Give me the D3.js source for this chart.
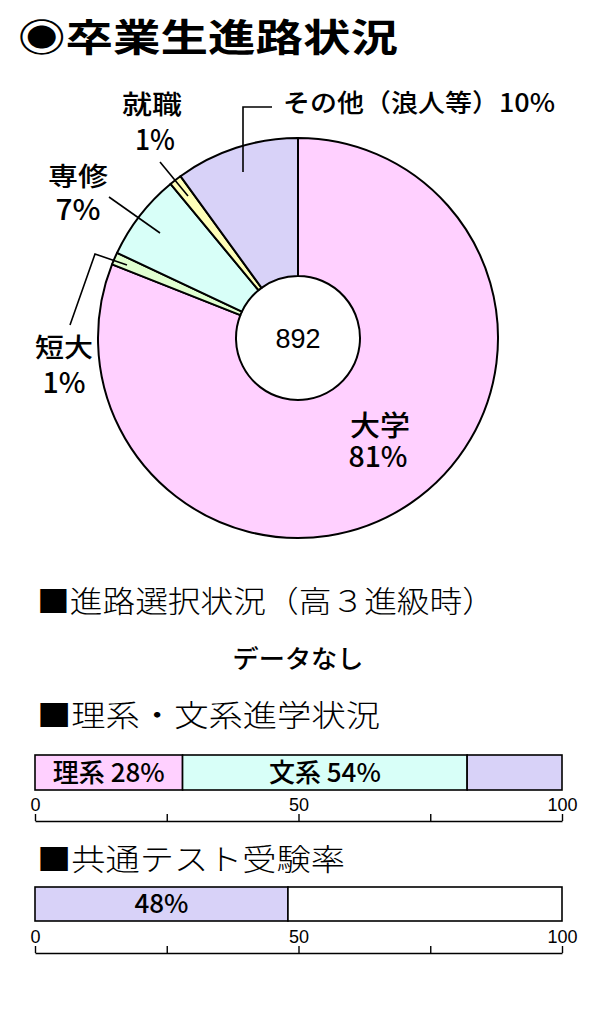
<!DOCTYPE html>
<html lang="ja">
<head>
    <meta charset="UTF-8"/>
    <title>卒業生進路状況</title>
    <script src="https://d3js.org/d3.v7.min.js"></script>
    <style>
        body { margin: 0; background: #fff; }
        svg text { font-family: "Liberation Sans", "Noto Sans CJK JP", sans-serif; }
        svg text.cjk { font-family: "Noto Sans CJK JP", sans-serif; }
    </style>
</head>
<body>
<script>
    // ---- data ----
    var pieCategories = ["大学", "短大", "専修", "就職", "その他"];
    var pieValues = [81, 1, 7, 1, 10];
    var pieColors = ["#ffd0ff", "#e0ffd0", "#d8fff8", "#ffffb8", "#d8d2f8"];
    var totalGraduates = 892;

    var bunriCategories = ["理系", "文系", "その他"];
    var bunriValues = [28, 54, 18];
    var bunriColors = ["#ffd0ff", "#d8fff8", "#d8d2f8"];

    var kyotsuCategories = ["受験", "未受験"];
    var kyotsuValues = [48, 52];
    var kyotsuColors = ["#d8d2f8", "#ffffff"];

    var axisTicks = [0, 25, 50, 75, 100];
    var axisTickLabels = ["0", "", "50", "", "100"];

    var w = 602, h = 1014;

    var svg = d3.select("body").append("svg")
        .attr("width", w)
        .attr("height", h);

    // ---- title ----
    svg.append("text")
        .attr("class", "cjk")
        .attr("x", 18).attr("y", 51)
        .attr("font-size", 38)
        .attr("font-weight", "bold")
        .attr("textLength", 380)
        .attr("lengthAdjust", "spacingAndGlyphs")
        .text("◉卒業生進路状況");

    // ---- donut ----
    var cx = 298, cy = 338;
    var pie = d3.pie().sort(null).value(d => d.value);
    var arc = d3.arc().innerRadius(62).outerRadius(200);
    var pieData = pie(pieCategories.map((c, i) => ({ name: c, value: pieValues[i], color: pieColors[i] })));

    var g = svg.append("g").attr("transform", "translate(" + cx + "," + cy + ")");
    g.selectAll("path")
        .data(pieData)
        .enter()
        .append("path")
        .attr("d", arc)
        .attr("fill", d => d.data.color)
        .attr("stroke", "#000")
        .attr("stroke-width", 2)
        .attr("stroke-linejoin", "round");

    g.append("text")
        .attr("x", 0).attr("y", 10)
        .attr("text-anchor", "middle")
        .attr("font-size", 27)
        .text(totalGraduates);

    // leader lines (label callouts)
    var leaders = [
        [[243, 172], [243, 107], [272, 107]],
        [[160, 162], [188, 196]],
        [[109, 197], [160, 233]],
        [[70, 325], [95, 254], [127, 265]]
    ];
    svg.selectAll("polyline.leader")
        .data(leaders)
        .enter()
        .append("polyline")
        .attr("class", "leader")
        .attr("points", d => d.map(p => p.join(",")).join(" "))
        .attr("fill", "none")
        .attr("stroke", "#000")
        .attr("stroke-width", 1.6);

    // pie labels
    var pieLabels = [
        { t: "その他（浪人等）10%", x: 283, y: 112, size: 25, anchor: "start", len: 272 },
        { t: "就職", x: 152, y: 114, size: 26, len: 60 },
        { t: "1%", x: 155, y: 150, size: 28, len: 40 },
        { t: "専修", x: 78, y: 186, size: 26, len: 60 },
        { t: "7%", x: 78, y: 220, size: 28, len: 45 },
        { t: "短大", x: 64, y: 357, size: 26, len: 58 },
        { t: "1%", x: 64, y: 393, size: 28, len: 43 },
        { t: "大学", x: 380, y: 436, size: 28, len: 60 },
        { t: "81%", x: 378, y: 467, size: 28, len: 59 }
    ];
    svg.selectAll("text.plabel")
        .data(pieLabels)
        .enter()
        .append("text")
        .attr("class", "plabel cjk")
        .attr("x", d => d.x)
        .attr("y", d => d.y)
        .attr("font-size", d => d.size)
        .attr("font-weight", 500)
        .attr("text-anchor", d => d.anchor || "middle")
        .attr("textLength", d => d.len)
        .attr("lengthAdjust", "spacingAndGlyphs")
        .text(d => d.t);

    // ---- section headings ----
    function heading(txt, y, len) {
        svg.append("text")
            .attr("class", "cjk")
            .attr("x", 37).attr("y", y)
            .attr("font-size", 30)
            .attr("font-weight", 300)
            .attr("textLength", len)
            .attr("lengthAdjust", "spacingAndGlyphs")
            .text(txt);
    }
    heading("■進路選択状況（高３進級時）", 612, 458);

    svg.append("text")
        .attr("class", "cjk")
        .attr("x", 298).attr("y", 668)
        .attr("text-anchor", "middle")
        .attr("font-size", 25)
        .attr("font-weight", 500)
        .attr("textLength", 131)
        .attr("lengthAdjust", "spacingAndGlyphs")
        .text("データなし");

    heading("■理系・文系進学状況", 726, 343);
    heading("■共通テスト受験率", 870, 308);

    // ---- stacked bars ----
    var x = d3.scaleLinear().domain([0, 100]).range([35, 562]);

    function stackedBar(cats, vals, colors, labels, top, barH) {
        var cum = 0;
        var segs = vals.map((v, i) => {
            var s = { name: cats[i], x0: cum, x1: cum + v, color: colors[i], label: labels[i] };
            cum += v;
            return s;
        });
        var bg = svg.append("g");
        bg.selectAll("rect")
            .data(segs)
            .enter()
            .append("rect")
            .attr("x", d => x(d.x0))
            .attr("y", top)
            .attr("width", d => x(d.x1) - x(d.x0))
            .attr("height", barH)
            .attr("fill", d => d.color)
            .attr("stroke", "#000")
            .attr("stroke-width", 1.6);
        bg.selectAll("text")
            .data(segs.filter(d => d.label))
            .enter()
            .append("text")
            .attr("class", "cjk")
            .attr("x", d => (x(d.x0) + x(d.x1)) / 2)
            .attr("y", top + barH / 2 + 9)
            .attr("text-anchor", "middle")
            .attr("font-size", 26)
            .attr("font-weight", 500)
            .text(d => d.label);
    }

    function axis(yLine) {
        var a = svg.append("g")
            .attr("transform", "translate(0," + yLine + ")")
            .call(d3.axisTop(x)
                .tickValues(axisTicks)
                .tickSize(7)
                .tickSizeOuter(0)
                .tickPadding(3)
                .tickFormat((d, i) => axisTickLabels[i]));
        a.select(".domain").attr("stroke-width", 1.4);
        a.selectAll(".tick line").attr("stroke-width", 1.4);
        a.selectAll(".tick text")
            .attr("font-size", 18)
            .attr("font-family", "Liberation Sans, sans-serif")
            .attr("fill", "#000");
    }

    stackedBar(bunriCategories, bunriValues, bunriColors,
        ["理系 28%", "文系 54%", ""], 755, 35);
    axis(821);

    stackedBar(kyotsuCategories, kyotsuValues, kyotsuColors,
        ["48%", ""], 887, 34);
    axis(953);
</script>
</body>
</html>
